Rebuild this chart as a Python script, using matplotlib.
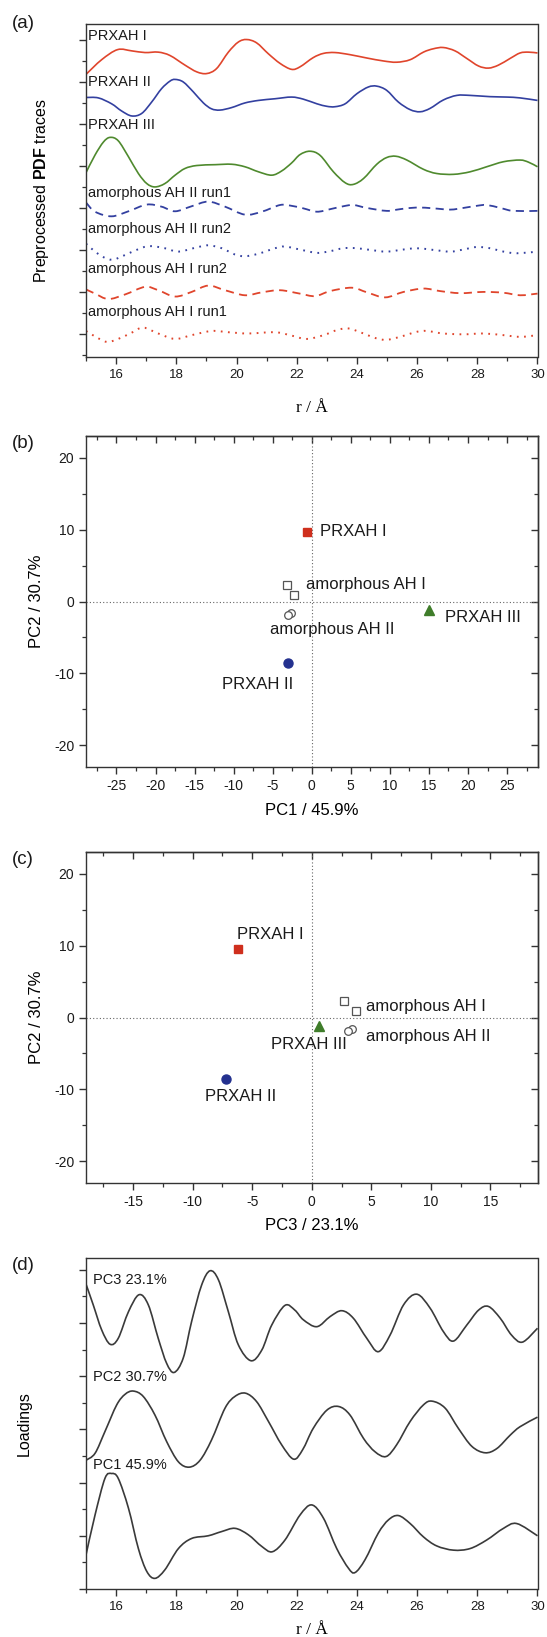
import numpy as np
import matplotlib
matplotlib.use("Agg")
import matplotlib.pyplot as plt
from matplotlib.ticker import MultipleLocator, FuncFormatter
from matplotlib.path import Path
from matplotlib.patches import PathPatch

# =========================
# DATA
# =========================
# (a) preprocessed PDF traces, offset units
r_prxah1 = [15.0, 15.52, 16.05, 16.52, 16.96, 17.40, 17.79, 18.29, 18.68, 19.01, 19.34, 19.73, 20.06,
            20.34, 20.67, 21.06, 21.45, 21.83, 22.11, 22.55, 22.89, 23.27, 23.77, 24.33, 24.88, 25.32,
            25.77, 26.21, 26.54, 26.87, 27.26, 27.65, 28.04, 28.37, 28.70, 29.09, 29.42, 29.70, 30.0]
prxah1 = [6.19, 6.54, 6.78, 6.75, 6.71, 6.72, 6.64, 6.41, 6.25, 6.21, 6.33, 6.72, 6.96,
          7.02, 6.94, 6.68, 6.45, 6.31, 6.37, 6.59, 6.69, 6.71, 6.66, 6.58, 6.51, 6.48,
          6.54, 6.72, 6.80, 6.83, 6.75, 6.57, 6.39, 6.34, 6.41, 6.57, 6.70, 6.72, 6.70]

r_prxah2 = [15.0, 15.41, 15.85, 16.18, 16.52, 16.85, 17.18, 17.51, 17.79, 17.96, 18.23, 18.57, 18.90,
            19.17, 19.45, 19.84, 20.28, 20.73, 21.28, 21.83, 22.22, 22.67, 23.0, 23.27, 23.61, 24.0,
            24.38, 24.66, 24.99, 25.38, 25.77, 26.1, 26.43, 26.87, 27.32, 27.76, 28.42, 28.98, 29.42, 30.0]
prxah2 = [5.64, 5.63, 5.49, 5.32, 5.20, 5.26, 5.53, 5.85, 6.03, 6.07, 6.01, 5.77, 5.51,
          5.37, 5.34, 5.40, 5.51, 5.57, 5.61, 5.65, 5.60, 5.49, 5.43, 5.42, 5.49, 5.73,
          5.89, 5.91, 5.81, 5.53, 5.35, 5.30, 5.38, 5.58, 5.69, 5.69, 5.66, 5.65, 5.63, 5.57]

r_prxah3 = [15.0, 15.30, 15.58, 15.80, 16.07, 16.41, 16.74, 17.02, 17.29, 17.62, 17.96, 18.29, 18.68,
            19.29, 19.84, 20.28, 20.73, 21.17, 21.50, 21.83, 22.11, 22.44, 22.78, 23.22, 23.61, 23.88,
            24.22, 24.66, 24.99, 25.30, 25.66, 26.21, 26.65, 27.21, 27.76, 28.31, 28.87, 29.42, 29.70, 30.0]
prxah3 = [3.85, 4.27, 4.58, 4.69, 4.61, 4.23, 3.83, 3.59, 3.51, 3.59, 3.79, 3.95, 4.02,
          4.04, 4.05, 3.99, 3.87, 3.79, 3.89, 4.08, 4.28, 4.36, 4.26, 3.87, 3.61, 3.57,
          3.71, 4.05, 4.21, 4.24, 4.15, 3.93, 3.83, 3.81, 3.87, 3.99, 4.11, 4.15, 4.10, 3.99]

r_ah2_run1 = [15.0, 15.3, 15.85, 16.41, 17.02, 17.51, 17.96, 18.51, 19.06, 19.62, 20.28, 20.84, 21.45,
              21.83, 22.22, 22.67, 23.11, 23.55, 23.88, 24.33, 24.99, 25.43, 25.99, 26.54, 27.1, 27.54,
              27.98, 28.31, 28.76, 29.2, 30.0]
ah2_run1 = [3.14, 2.92, 2.81, 2.93, 3.09, 3.04, 2.93, 3.05, 3.16, 3.04, 2.85, 2.92, 3.08,
            3.06, 3.00, 2.92, 2.98, 3.05, 3.08, 3.01, 2.94, 2.98, 3.02, 3.00, 2.97, 3.01,
            3.06, 3.08, 3.01, 2.94, 2.94]

r_ah2_run2 = [15.0, 15.3, 15.63, 15.91, 16.3, 16.85, 17.18, 17.62, 18.07, 18.62, 19.06, 19.51, 19.95,
              20.28, 20.73, 21.28, 21.61, 22.1, 22.67, 23.11, 23.55, 24.0, 24.44, 24.99, 25.55, 25.99,
              26.54, 27.1, 27.54, 27.98, 28.42, 28.87, 29.31, 30.0]
ah2_run2 = [2.16, 1.97, 1.82, 1.78, 1.89, 2.06, 2.10, 2.05, 1.97, 2.06, 2.12, 2.05, 1.90,
            1.86, 1.92, 2.05, 2.09, 2.02, 1.94, 1.98, 2.05, 2.05, 2.01, 1.97, 2.02, 2.05,
            2.01, 1.97, 2.02, 2.08, 2.05, 1.97, 1.93, 1.97]

r_ah1_run2 = [15.0, 15.3, 15.74, 16.3, 16.96, 17.4, 17.96, 18.51, 19.06, 19.62, 20.28, 20.84, 21.45,
              22.1, 22.61, 23.11, 23.83, 24.33, 24.94, 25.55, 26.21, 26.76, 27.43, 28.2, 28.87, 29.42, 30.0]
ah1_run2 = [1.07, 0.97, 0.84, 0.95, 1.13, 1.05, 0.90, 1.01, 1.16, 1.05, 0.93, 1.00, 1.05,
            0.97, 0.91, 1.03, 1.11, 1.00, 0.88, 1.01, 1.09, 1.03, 0.98, 1.01, 0.99, 0.93, 0.97]

r_ah1_run1 = [15.0, 15.3, 15.69, 16.07, 16.52, 16.9, 17.4, 17.96, 18.51, 19.17, 19.73, 20.39, 21.28,
              21.83, 22.33, 22.89, 23.33, 23.72, 24.22, 24.66, 24.99, 25.43, 25.99, 26.32, 26.87, 27.54,
              28.2, 28.87, 29.42, 30.0]
ah1_run1 = [0.08, -0.05, -0.18, -0.11, 0.04, 0.16, 0.02, -0.11, -0.02, 0.08, 0.05, 0.02, 0.05,
            -0.03, -0.11, -0.02, 0.10, 0.14, 0.02, -0.10, -0.13, -0.06, 0.06, 0.08, 0.02, 0.00,
            0.02, -0.02, -0.06, -0.02]

trace_labels = ["PRXAH I", "PRXAH II", "PRXAH III", "amorphous AH II run1",
                "amorphous AH II run2", "amorphous AH I run2", "amorphous AH I run1"]
trace_label_y = [7.10, 6.01, 4.98, 3.37, 2.52, 1.55, 0.54]

# (b), (c) scores: PRXAH I, PRXAH II, PRXAH III, AH I (x2), AH II (x2)
pc1 = [-0.67, -3.03, 15.0, -3.17, -2.27, -2.70, -3.00]
pc2 = [9.6, -8.5, -1.2, 2.25, 0.95, -1.6, -1.9]
pc3 = [-6.22, -7.24, 0.64, 2.74, 3.73, 3.41, 3.03]

# (d) loadings, offset units
r_pc3 = [15.0, 15.24, 15.52, 15.8, 16.07, 16.41, 16.76, 17.07, 17.4, 17.68, 17.93, 18.23, 18.51,
         18.84, 19.12, 19.4, 19.73, 20.06, 20.48, 20.84, 21.17, 21.61, 21.94, 22.22, 22.67, 23.11,
         23.5, 23.88, 24.33, 24.71, 25.1, 25.55, 25.99, 26.43, 26.87, 27.21, 27.65, 28.04, 28.37,
         28.76, 29.14, 29.5, 30.0]
load_pc3 = [5.73, 5.34, 4.87, 4.60, 4.71, 5.21, 5.53, 5.34, 4.71, 4.24, 4.07, 4.34, 5.03,
            5.71, 5.98, 5.81, 5.21, 4.59, 4.29, 4.49, 4.96, 5.33, 5.24, 5.06, 4.93, 5.12,
            5.23, 5.09, 4.71, 4.46, 4.77, 5.34, 5.54, 5.28, 4.84, 4.66, 4.96, 5.24, 5.31,
            5.09, 4.77, 4.64, 4.90]

r_pc2 = [15.0, 15.3, 15.63, 16.02, 16.3, 16.57, 16.9, 17.29, 17.68, 18.07, 18.43, 18.79, 19.17,
         19.62, 19.95, 20.3, 20.67, 21.06, 21.5, 21.9, 22.2, 22.55, 23.0, 23.39, 23.77, 24.22,
         24.6, 24.97, 25.32, 25.77, 26.21, 26.5, 26.93, 27.37, 27.82, 28.26, 28.65, 29.09, 29.42, 30.0]
load_pc2 = [2.42, 2.55, 2.96, 3.46, 3.66, 3.72, 3.62, 3.27, 2.77, 2.39, 2.29, 2.42, 2.80,
            3.40, 3.62, 3.68, 3.52, 3.15, 2.71, 2.44, 2.62, 3.02, 3.36, 3.43, 3.27, 2.83,
            2.58, 2.49, 2.71, 3.15, 3.46, 3.53, 3.40, 3.02, 2.68, 2.56, 2.64, 2.89, 3.05, 3.23]

r_pc1 = [15.0, 15.3, 15.63, 15.85, 16.07, 16.41, 16.74, 17.02, 17.29, 17.62, 18.07, 18.51, 19.06,
         19.51, 19.95, 20.39, 20.84, 21.19, 21.61, 22.11, 22.5, 22.89, 23.33, 23.72, 23.94, 24.27,
         24.71, 25.05, 25.38, 25.77, 26.21, 26.65, 27.21, 27.76, 28.31, 28.87, 29.31, 30.0]
load_pc1 = [0.64, 1.39, 2.08, 2.17, 2.08, 1.52, 0.76, 0.33, 0.20, 0.36, 0.76, 0.95, 1.00,
            1.08, 1.14, 1.02, 0.80, 0.70, 0.92, 1.39, 1.58, 1.33, 0.76, 0.39, 0.31, 0.55,
            1.05, 1.30, 1.38, 1.23, 0.98, 0.81, 0.73, 0.76, 0.92, 1.14, 1.23, 1.00]

# =========================
# STYLE
# =========================
plt.rcParams["font.family"] = ["Liberation Sans", "DejaVu Sans"]
plt.rcParams["mathtext.fontset"] = "custom"
plt.rcParams["mathtext.rm"] = "Liberation Sans"
plt.rcParams["mathtext.bf"] = "Liberation Sans:bold"
plt.rcParams["axes.unicode_minus"] = False

RED = "#e0452c"
BLUE = "#3340a0"
GREEN = "#4f8a2e"
SPINE = "#333333"
TXT = "#1a1a1a"

fig = plt.figure(figsize=(5.47, 16.37), dpi=100)


def rect(top, bottom):
    return [86 / 547, (1637 - bottom) / 1637, 451.5 / 547, (bottom - top) / 1637]


def style_spines(ax):
    for s in ax.spines.values():
        s.set_color(SPINE)
        s.set_linewidth(1.0)


def smooth_line(ax, xs, ys, **kw):
    # spline-style connection through the read points (Origin "spline" look)
    xs = np.asarray(xs, float)
    ys = np.asarray(ys, float)
    n = len(xs)
    verts = [(xs[0], ys[0])]
    codes = [Path.MOVETO]
    for i in range(n - 1):
        a = max(i - 1, 0)
        b = min(i + 2, n - 1)
        c1 = (xs[i] + (xs[i + 1] - xs[a]) / 6, ys[i] + (ys[i + 1] - ys[a]) / 6)
        c2 = (xs[i + 1] - (xs[b] - xs[i]) / 6, ys[i + 1] - (ys[b] - ys[i]) / 6)
        verts += [c1, c2, (xs[i + 1], ys[i + 1])]
        codes += [Path.CURVE4] * 3
    ax.add_patch(PathPatch(Path(verts, codes), fill=False, **kw))


# =========================
# (a) PDF TRACES
# =========================
ax_a = fig.add_axes(rect(24, 357))
smooth_line(ax_a, r_prxah1, prxah1, edgecolor=RED, lw=1.2)
smooth_line(ax_a, r_prxah2, prxah2, edgecolor=BLUE, lw=1.2)
smooth_line(ax_a, r_prxah3, prxah3, edgecolor=GREEN, lw=1.2)
smooth_line(ax_a, r_ah2_run1, ah2_run1, edgecolor=BLUE, lw=1.3, linestyle=(0, (4.5, 3.0)))
smooth_line(ax_a, r_ah2_run2, ah2_run2, edgecolor=BLUE, lw=1.4, linestyle=(0, (0.9, 2.8)))
smooth_line(ax_a, r_ah1_run2, ah1_run2, edgecolor=RED, lw=1.3, linestyle=(0, (4.5, 3.0)))
smooth_line(ax_a, r_ah1_run1, ah1_run1, edgecolor=RED, lw=1.4, linestyle=(0, (0.9, 2.8)))
for lab, yy in zip(trace_labels, trace_label_y):
    ax_a.text(15.08, yy, lab, fontsize=10.5, va="center", ha="left", color=TXT)

ax_a.set_xlim(15, 30)
ax_a.set_ylim(-0.54, 7.39)

# =========================
# (d) LOADINGS
# =========================
ax_d = fig.add_axes(rect(1257.5, 1589))
for rr, vals in [(r_pc3, load_pc3), (r_pc2, load_pc2), (r_pc1, load_pc1)]:
    smooth_line(ax_d, rr, vals, edgecolor="#3a3a3a", lw=1.2)
for lab, yy in [("PC3 23.1%", 5.81), ("PC2 30.7%", 3.99), ("PC1 45.9%", 2.33)]:
    ax_d.text(15.24, yy, lab, fontsize=10.5, va="center", ha="left", color=TXT)
ax_d.set_xlim(15, 30)
ax_d.set_ylim(0, 6.23)

for ax in (ax_a, ax_d):
    style_spines(ax)
    ax.xaxis.set_major_locator(MultipleLocator(2))
    ax.xaxis.set_minor_locator(MultipleLocator(1))
    ax.yaxis.set_major_locator(MultipleLocator(1))
    ax.yaxis.set_minor_locator(MultipleLocator(0.5))
    ax.tick_params(which="both", direction="out", top=False, right=False,
                   labelleft=False, color=SPINE, labelsize=9.5, labelcolor=TXT)
    ax.tick_params(which="major", length=5, width=1.0)
    ax.tick_params(which="minor", length=3, width=0.9)
    ax.set_xlabel("r / Å", family=["Liberation Serif", "DejaVu Serif"], fontsize=12.5)
    ax.xaxis.label.set_va("center")
    ax.yaxis.label.set_va("center")

ax_a.xaxis.set_label_coords(0.5, -0.153)
ax_d.xaxis.set_label_coords(0.5, -0.124)
ax_a.set_ylabel(r"Preprocessed $\mathbf{PDF}$ traces", fontsize=11.5, va="center")
ax_a.yaxis.set_label_coords(-0.098, 0.5)
ax_d.set_ylabel("Loadings", fontsize=11.5, va="center")
ax_d.yaxis.set_label_coords(-0.137, 0.5)

# =========================
# (b), (c) SCORE PLOTS
# =========================
ax_b = fig.add_axes(rect(436, 767))
ax_c = fig.add_axes(rect(852.3, 1182.7))

for ax, xs, xmax, xlab in [(ax_b, pc1, 28.9, "PC1 / 45.9%"), (ax_c, pc3, 18.97, "PC3 / 23.1%")]:
    ax.axhline(0, color="#666666", lw=0.8, dashes=(1, 2), zorder=1)
    ax.axvline(0, color="#666666", lw=0.8, dashes=(1, 2), zorder=1)
    ax.plot(xs[0], pc2[0], "s", color="#cf2f1d", ms=6, zorder=3)
    ax.plot(xs[1], pc2[1], "o", color="#24318f", ms=6.5, zorder=3)
    ax.plot(xs[2], pc2[2], "^", color="#3f7d2a", ms=6.5, zorder=3)
    ax.plot(xs[3:5], pc2[3:5], "s", mfc="white", mec="#555555", mew=0.9, ms=5.5, ls="none", zorder=3)
    ax.plot(xs[5:7], pc2[5:7], "o", mfc="white", mec="#555555", mew=0.9, ms=5.5, ls="none", zorder=3)
    ax.set_xlim(-xmax, xmax)
    ax.set_ylim(-23, 23)
    style_spines(ax)
    ax.xaxis.set_major_locator(MultipleLocator(5))
    ax.xaxis.set_minor_locator(MultipleLocator(2.5))
    ax.yaxis.set_major_locator(MultipleLocator(10))
    ax.yaxis.set_minor_locator(MultipleLocator(5))
    ax.xaxis.set_major_formatter(FuncFormatter(lambda v, p: "%g" % v))
    ax.tick_params(which="both", direction="out", color=SPINE, labelsize=10, labelcolor=TXT)
    ax.tick_params(which="major", length=5, width=1.0)
    ax.tick_params(which="minor", length=3, width=0.9)

    # mirrored inward ticks on top and right
    top = ax.secondary_xaxis("top")
    top.xaxis.set_major_locator(MultipleLocator(5))
    top.xaxis.set_minor_locator(MultipleLocator(2.5))
    right = ax.secondary_yaxis("right")
    right.yaxis.set_major_locator(MultipleLocator(10))
    right.yaxis.set_minor_locator(MultipleLocator(5))
    for sec in (top, right):
        sec.tick_params(which="both", direction="in", color=SPINE, labeltop=False,
                        labelright=False)
        sec.tick_params(which="major", length=5, width=1.0)
        sec.tick_params(which="minor", length=3, width=0.9)
        for s in sec.spines.values():
            s.set_color(SPINE)
            s.set_linewidth(1.0)

    ax.set_xlabel(xlab, fontsize=12)
    ax.xaxis.label.set_va("center")
    ax.xaxis.set_label_coords(0.5, -0.130)
    ax.set_ylabel("PC2 / 30.7%", fontsize=12, va="center")
    ax.yaxis.set_label_coords(-0.110, 0.5)

lab_fs = 12
ax_b.text(1.0, 9.7, "PRXAH I", fontsize=lab_fs, va="center", color=TXT)
ax_b.text(-0.8, 2.3, "amorphous AH I", fontsize=lab_fs, va="center", color=TXT)
ax_b.text(-5.35, -3.85, "amorphous AH II", fontsize=lab_fs, va="center", color=TXT)
ax_b.text(17.0, -2.2, "PRXAH III", fontsize=lab_fs, va="center", color=TXT)
ax_b.text(-11.5, -11.6, "PRXAH II", fontsize=lab_fs, va="center", color=TXT)

ax_c.text(-6.28, 11.5, "PRXAH I", fontsize=lab_fs, va="center", color=TXT)
ax_c.text(4.52, 1.6, "amorphous AH I", fontsize=lab_fs, va="center", color=TXT)
ax_c.text(4.52, -2.7, "amorphous AH II", fontsize=lab_fs, va="center", color=TXT)
ax_c.text(-3.45, -3.7, "PRXAH III", fontsize=lab_fs, va="center", color=TXT)
ax_c.text(-9.0, -11.0, "PRXAH II", fontsize=lab_fs, va="center", color=TXT)

# =========================
# PANEL LETTERS
# =========================
for lab, ypix in [("(a)", 23.3), ("(b)", 443.3), ("(c)", 860), ("(d)", 1265)]:
    fig.text(12 / 547, 1 - ypix / 1637, lab, fontsize=13.5, va="center", ha="left", color=TXT)

fig.savefig("out.png", dpi=100)
